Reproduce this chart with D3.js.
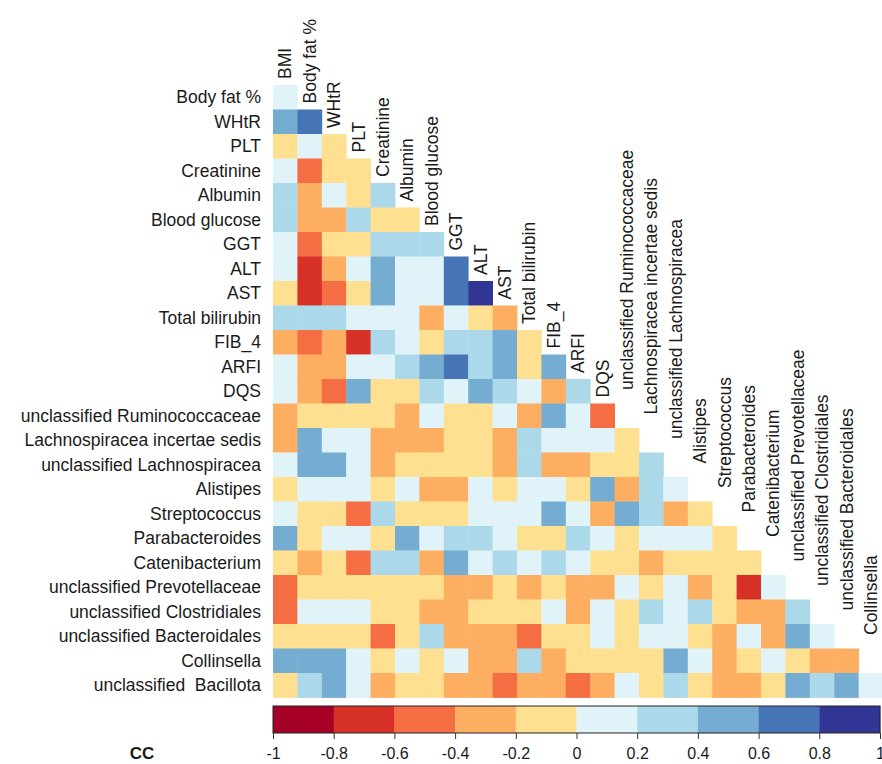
<!DOCTYPE html>
<html>
<head>
<meta charset="utf-8">
<script src="https://cdnjs.cloudflare.com/ajax/libs/d3/7.8.5/d3.min.js"></script>
<style>
body { margin: 0; background: #fff; }
svg { display: block; font-family: "Liberation Sans", Arial, sans-serif; }
</style>
</head>
<body>
<svg id="chart" width="882" height="764"></svg>
<script>
// row variables, top to bottom
const rowVars = ['Body fat %', 'WHtR', 'PLT', 'Creatinine', 'Albumin', 'Blood glucose',
    'GGT', 'ALT', 'AST', 'Total bilirubin', 'FIB_4', 'ARFI', 'DQS',
    'unclassified Ruminococcaceae', 'Lachnospiracea incertae sedis', 'unclassified Lachnospiracea',
    'Alistipes', 'Streptococcus', 'Parabacteroides', 'Catenibacterium',
    'unclassified Prevotellaceae', 'unclassified Clostridiales', 'unclassified Bacteroidales',
    'Collinsella', 'unclassified  Bacillota'];

// column variables, left to right
const colVars = ['BMI'].concat(rowVars.slice(0, 24));

// correlation coefficients, lower triangle (row i has i+1 values)
const cc = [
    [0.1],
    [0.5, 0.7],
    [-0.1, 0.1, -0.1],
    [0.1, -0.5, -0.1, -0.1],
    [0.3, -0.3, 0.1, -0.1, 0.3],
    [0.3, -0.3, -0.3, 0.3, -0.1, -0.1],
    [0.1, -0.5, -0.1, -0.1, 0.3, 0.3, 0.3],
    [0.1, -0.7, -0.3, 0.1, 0.5, 0.1, 0.1, 0.7],
    [-0.1, -0.7, -0.5, -0.1, 0.5, 0.1, 0.1, 0.7, 0.9],
    [0.3, 0.3, 0.3, 0.1, 0.1, 0.1, -0.3, 0.1, -0.1, -0.3],
    [-0.3, -0.5, -0.3, -0.7, 0.3, 0.1, -0.1, 0.3, 0.3, 0.5, -0.1],
    [0.1, -0.3, -0.3, 0.1, 0.1, 0.3, 0.5, 0.7, 0.3, 0.5, -0.1, 0.5],
    [0.1, -0.3, -0.5, 0.5, -0.1, -0.1, 0.3, 0.1, 0.5, 0.3, 0.1, -0.3, 0.3],
    [-0.3, -0.1, -0.1, -0.1, -0.1, -0.3, 0.1, -0.1, -0.1, 0.1, -0.3, 0.5, 0.1, -0.5],
    [-0.3, 0.5, 0.1, 0.1, -0.3, -0.3, -0.3, -0.1, -0.1, -0.3, 0.3, 0.1, 0.1, 0.1, -0.1],
    [0.1, 0.5, 0.5, 0.1, -0.3, -0.1, -0.1, -0.1, -0.1, -0.3, 0.3, -0.3, -0.3, -0.1, -0.1, 0.3],
    [-0.1, 0.1, 0.1, 0.1, -0.1, 0.1, -0.3, -0.3, 0.1, -0.1, 0.1, 0.1, -0.1, 0.5, -0.3, 0.3, 0.1],
    [0.1, -0.1, -0.1, -0.5, 0.3, -0.1, -0.1, -0.1, 0.1, 0.1, 0.1, 0.5, 0.1, -0.3, 0.5, 0.3, -0.3, -0.1],
    [0.5, -0.1, 0.1, 0.1, -0.1, 0.5, 0.1, 0.3, 0.3, 0.1, -0.1, -0.1, 0.3, 0.1, -0.1, 0.1, 0.1, 0.1, -0.1],
    [-0.1, -0.3, -0.1, -0.5, 0.3, 0.3, -0.3, 0.5, 0.1, 0.3, 0.1, 0.3, 0.1, -0.1, -0.1, -0.3, -0.1, -0.1, -0.1, -0.1],
    [-0.5, -0.1, -0.1, -0.1, -0.1, -0.1, -0.1, -0.3, -0.3, -0.1, -0.3, -0.1, -0.3, -0.3, 0.1, -0.1, 0.1, -0.3, -0.1, -0.7, 0.1],
    [-0.5, 0.1, 0.1, 0.1, -0.1, -0.1, -0.3, -0.3, -0.1, -0.1, -0.1, 0.1, -0.3, 0.1, -0.1, 0.3, 0.1, 0.3, -0.1, -0.3, -0.3, 0.3],
    [-0.1, -0.1, -0.1, -0.1, -0.5, -0.1, 0.3, -0.3, -0.3, -0.3, -0.5, -0.1, -0.1, 0.1, -0.1, 0.1, 0.1, -0.1, -0.3, 0.1, -0.3, 0.5, 0.1],
    [0.5, 0.5, 0.5, 0.1, -0.1, 0.1, -0.1, 0.1, -0.3, -0.3, 0.3, -0.3, -0.1, -0.1, -0.1, -0.1, 0.5, 0.1, -0.3, -0.1, 0.1, -0.1, -0.3, -0.3],
    [-0.1, 0.3, 0.5, 0.1, -0.3, -0.1, -0.1, -0.3, -0.3, -0.5, -0.3, -0.3, -0.5, -0.3, 0.1, -0.1, 0.3, -0.1, -0.3, -0.3, -0.1, 0.5, 0.3, 0.5, 0.1]
];

// colour key
const ccBreaks = [-1, -0.8, -0.6, -0.4, -0.2, 0, 0.2, 0.4, 0.6, 0.8, 1];
const ccTickLabels = ['-1', '-0.8', '-0.6', '-0.4', '-0.2', '0', '0.2', '0.4', '0.6', '0.8', '1'];

const svg = d3.select('#chart');
const fontSize = 17.5;

const x = d3.scaleBand().domain(colVars).range([273, 883]);
const y = d3.scaleBand().domain(rowVars).range([85, 697.5]);
const color = d3.scaleThreshold()
    .domain(ccBreaks.slice(1, -1))
    .range(d3.schemeRdYlBu[10]);

const cells = [];
cc.forEach((row, i) => {
    row.forEach((v, j) => cells.push({row: rowVars[i], col: colVars[j], v: v}));
});

svg.append('g')
    .selectAll('rect')
    .data(cells)
    .enter()
    .append('rect')
    .attr('x', d => x(d.col))
    .attr('y', d => y(d.row))
    .attr('width', x.bandwidth() + 0.4)
    .attr('height', y.bandwidth() + 0.4)
    .attr('fill', d => color(d.v));

// row labels
svg.append('g')
    .selectAll('text')
    .data(rowVars)
    .enter()
    .append('text')
    .attr('x', 261)
    .attr('y', d => y(d) + y.bandwidth() / 2)
    .attr('dy', '0.35em')
    .attr('text-anchor', 'end')
    .style('white-space', 'pre')
    .attr('font-size', fontSize)
    .attr('fill', '#1a1a1a')
    .text(d => d);

// column labels sit just above the first cell of each column
svg.append('g')
    .selectAll('text')
    .data(colVars)
    .enter()
    .append('text')
    .attr('transform', (d, i) => {
        const gap = i < 14 ? 6 : 38;
        return 'translate(' + (x(d) + x.bandwidth() / 2) + ',' + (y(rowVars[i]) - gap) + ') rotate(-90)';
    })
    .attr('dy', '0.35em')
    .attr('text-anchor', 'start')
    .attr('font-size', fontSize)
    .attr('fill', '#1a1a1a')
    .text(d => d);

// colour bar
const lx = d3.scaleLinear().domain([-1, 1]).range([273, 880]);
const barTop = 706, barH = 27;
const lg = svg.append('g');

lg.selectAll('rect')
    .data(d3.pairs(ccBreaks))
    .enter()
    .append('rect')
    .attr('x', d => lx(d[0]))
    .attr('y', barTop)
    .attr('width', d => lx(d[1]) - lx(d[0]) + 0.3)
    .attr('height', barH)
    .attr('fill', d => color((d[0] + d[1]) / 2));

lg.append('rect')
    .attr('x', lx(-1))
    .attr('y', barTop)
    .attr('width', lx(1) - lx(-1))
    .attr('height', barH)
    .attr('fill', 'none')
    .attr('stroke', '#222')
    .attr('stroke-width', 1);

const axis = lg.append('g')
    .attr('transform', 'translate(0,' + (barTop + barH) + ')')
    .call(d3.axisBottom(lx)
        .tickValues(ccBreaks)
        .tickSize(6)
        .tickPadding(9)
        .tickFormat((d, i) => ccTickLabels[i]));
axis.select('.domain').remove();
axis.selectAll('line').attr('stroke', '#333');
axis.selectAll('text')
    .attr('font-size', 16)
    .attr('font-family', '"Liberation Sans", Arial, sans-serif')
    .attr('fill', '#1a1a1a');

svg.append('text')
    .attr('x', 142)
    .attr('y', 759)
    .attr('text-anchor', 'middle')
    .attr('font-size', 17)
    .attr('font-weight', 'bold')
    .attr('fill', '#1a1a1a')
    .text('CC');
</script>
</body>
</html>
